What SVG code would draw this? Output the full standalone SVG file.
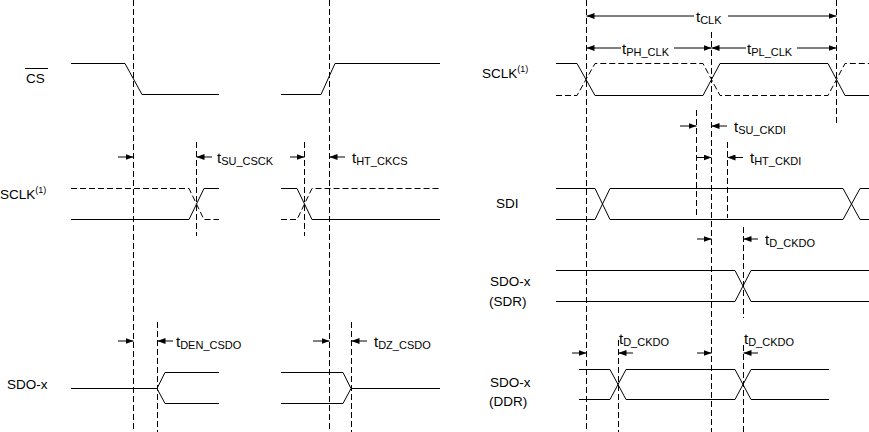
<svg xmlns="http://www.w3.org/2000/svg" width="869" height="432" viewBox="0 0 869 432">
<style>
.w{fill:none;stroke:#000;stroke-width:1}
.d{fill:none;stroke:#000;stroke-width:1;stroke-dasharray:6 3}
.a{fill:none;stroke:#000;stroke-width:1;marker-end:url(#ah)}
.lbl{font-family:"Liberation Sans",Arial,sans-serif;font-size:13.5px;fill:#000}
.sup{font-size:9px}
.t{font-family:"Liberation Sans",Arial,sans-serif;font-size:15px;fill:#000}
.s{font-size:11px}
</style>
<defs>
<marker id="ah" markerWidth="8" markerHeight="6" refX="8" refY="3" orient="auto" markerUnits="userSpaceOnUse">
<path d="M0,0 L8,3 L0,6 z" fill="#000"/>
</marker>
</defs>
<rect width="869" height="432" fill="#fff"/>

<g id="cs-left">
<text class="lbl" x="26" y="83">CS</text>
<line class="w" x1="25" y1="68.5" x2="48" y2="68.5"/>
<polyline class="w" points="71,63.5 125,63.5 142,94.5 219,94.5"/>
<polyline class="w" points="281,94.5 321,94.5 335,63.5 440,63.5"/>
</g>

<g id="sclk-left">
<text class="lbl" x="0" y="199">SCLK<tspan class="sup" dy="-6">(1)</tspan></text>
<polyline class="w" points="71,219.5 189,219.5 204,188.5 219,188.5"/>
<polyline class="d" points="71,188.5 189,188.5 204,219.5 219,219.5"/>
<polyline class="w" points="281,188.5 297,188.5 312,219.5 440,219.5"/>
<polyline class="d" points="281,219.5 297,219.5 312,188.5 440,188.5"/>
</g>

<g id="sdo-left">
<text class="lbl" x="7" y="389">SDO-x</text>
<polyline class="w" points="71,388.5 157,388.5"/>
<polyline class="w" points="219,372.5 165,372.5 157,388.5 165,403.5 219,403.5"/>
<polyline class="w" points="281,372.5 343,372.5 351,388.5 343,403.5 281,403.5"/>
<polyline class="w" points="351,388.5 440,388.5"/>
</g>

<g id="sclk-right">
<text class="lbl" x="482" y="78">SCLK<tspan class="sup" dy="-6">(1)</tspan></text>
<polyline class="w" points="556,63.5 577,63.5 595,95.5 703,95.5 720,63.5 828,63.5 845,95.5 869,95.5"/>
<polyline class="d" points="556,95.5 577,95.5 595,63.5 703,63.5 720,95.5 828,95.5 845,63.5 869,63.5"/>
</g>

<g id="sdi">
<text class="lbl" x="496" y="208">SDI</text>
<polyline class="w" points="556,188.5 595,188.5 610,219.5 843,219.5 860,188.5 869,188.5"/>
<polyline class="w" points="556,219.5 595,219.5 610,188.5 843,188.5 860,219.5 869,219.5"/>
</g>

<g id="sdo-sdr">
<text class="lbl" x="490" y="286">SDO-x</text>
<text class="lbl" x="489" y="306">(SDR)</text>
<polyline class="w" points="556,270.5 735,270.5 751,301.5 869,301.5"/>
<polyline class="w" points="556,301.5 735,301.5 751,270.5 869,270.5"/>
</g>

<g id="sdo-ddr">
<text class="lbl" x="490" y="387">SDO-x</text>
<text class="lbl" x="489" y="406">(DDR)</text>
<polyline class="w" points="579,369.5 610,369.5 626,399.5 735,399.5 751,369.5 829,369.5"/>
<polyline class="w" points="579,399.5 610,399.5 626,369.5 735,369.5 751,399.5 829,399.5"/>
</g>

<g id="connectors">
<line class="d" x1="133.5" y1="0" x2="133.5" y2="432"/>
<line class="d" x1="329.5" y1="0" x2="329.5" y2="432"/>
<line class="d" x1="196.5" y1="142" x2="196.5" y2="236"/>
<line class="d" x1="304.5" y1="142" x2="304.5" y2="236"/>
<line class="d" x1="157.5" y1="322" x2="157.5" y2="432"/>
<line class="d" x1="351.5" y1="322" x2="351.5" y2="432"/>
<line class="d" x1="586.5" y1="0" x2="586.5" y2="432"/>
<line class="d" x1="711.5" y1="32" x2="711.5" y2="432"/>
<line class="d" x1="836.5" y1="0" x2="836.5" y2="126"/>
<line class="d" x1="696.5" y1="110" x2="696.5" y2="218"/>
<line class="d" x1="727.5" y1="142" x2="727.5" y2="218"/>
<line class="d" x1="743.5" y1="227" x2="743.5" y2="318"/>
<line class="d" x1="618.5" y1="340" x2="618.5" y2="432"/>
<line class="d" x1="743.5" y1="345" x2="743.5" y2="432"/>

<line class="a" x1="118" y1="157" x2="133.5" y2="157"/>
<line class="a" x1="212" y1="157" x2="196.5" y2="157"/>
<line class="a" x1="290" y1="157" x2="304.5" y2="157"/>
<line class="a" x1="345" y1="157" x2="329.5" y2="157"/>
<line class="a" x1="118" y1="341" x2="133.5" y2="341"/>
<line class="a" x1="173" y1="341" x2="157.5" y2="341"/>
<line class="a" x1="313" y1="341" x2="329.5" y2="341"/>
<line class="a" x1="367" y1="341" x2="351.5" y2="341"/>

<line class="a" x1="694" y1="16" x2="586.5" y2="16"/>
<line class="a" x1="728" y1="16" x2="836.5" y2="16"/>
<line class="a" x1="621" y1="48" x2="586.5" y2="48"/>
<line class="a" x1="674" y1="48" x2="711.5" y2="48"/>
<line class="a" x1="746" y1="48" x2="711.5" y2="48"/>
<line class="a" x1="797" y1="48" x2="836.5" y2="48"/>

<line class="a" x1="680" y1="126" x2="696.5" y2="126"/>
<line class="a" x1="727" y1="126" x2="711.5" y2="126"/>
<line class="a" x1="696.5" y1="157.5" x2="711.5" y2="157.5"/>
<line class="a" x1="743" y1="157.5" x2="727.5" y2="157.5"/>
<line class="a" x1="697" y1="239" x2="711.5" y2="239"/>
<line class="a" x1="758" y1="239" x2="743.5" y2="239"/>
<line class="a" x1="572" y1="353" x2="586.5" y2="353"/>
<line class="a" x1="633" y1="353" x2="618.5" y2="353"/>
<line class="a" x1="697" y1="353" x2="711.5" y2="353"/>
<line class="a" x1="758" y1="353" x2="743.5" y2="353"/>
</g>

<g id="timing-labels">
<text class="t" x="217" y="163">t<tspan class="s" dy="2">SU_CSCK</tspan></text>
<text class="t" x="352" y="163">t<tspan class="s" dy="2">HT_CKCS</tspan></text>
<text class="t" x="176" y="347">t<tspan class="s" dy="2">DEN_CSDO</tspan></text>
<text class="t" x="374" y="347">t<tspan class="s" dy="2">DZ_CSDO</tspan></text>
<text class="t" x="696" y="22">t<tspan class="s" dy="2">CLK</tspan></text>
<text class="t" x="622" y="54">t<tspan class="s" dy="2">PH_CLK</tspan></text>
<text class="t" x="747" y="54">t<tspan class="s" dy="2">PL_CLK</tspan></text>
<text class="t" x="734" y="132">t<tspan class="s" dy="2">SU_CKDI</tspan></text>
<text class="t" x="750" y="163">t<tspan class="s" dy="2">HT_CKDI</tspan></text>
<text class="t" x="765" y="245">t<tspan class="s" dy="2">D_CKDO</tspan></text>
<text class="t" x="619" y="344">t<tspan class="s" dy="2">D_CKDO</tspan></text>
<text class="t" x="744" y="344">t<tspan class="s" dy="2">D_CKDO</tspan></text>
</g>
</svg>
